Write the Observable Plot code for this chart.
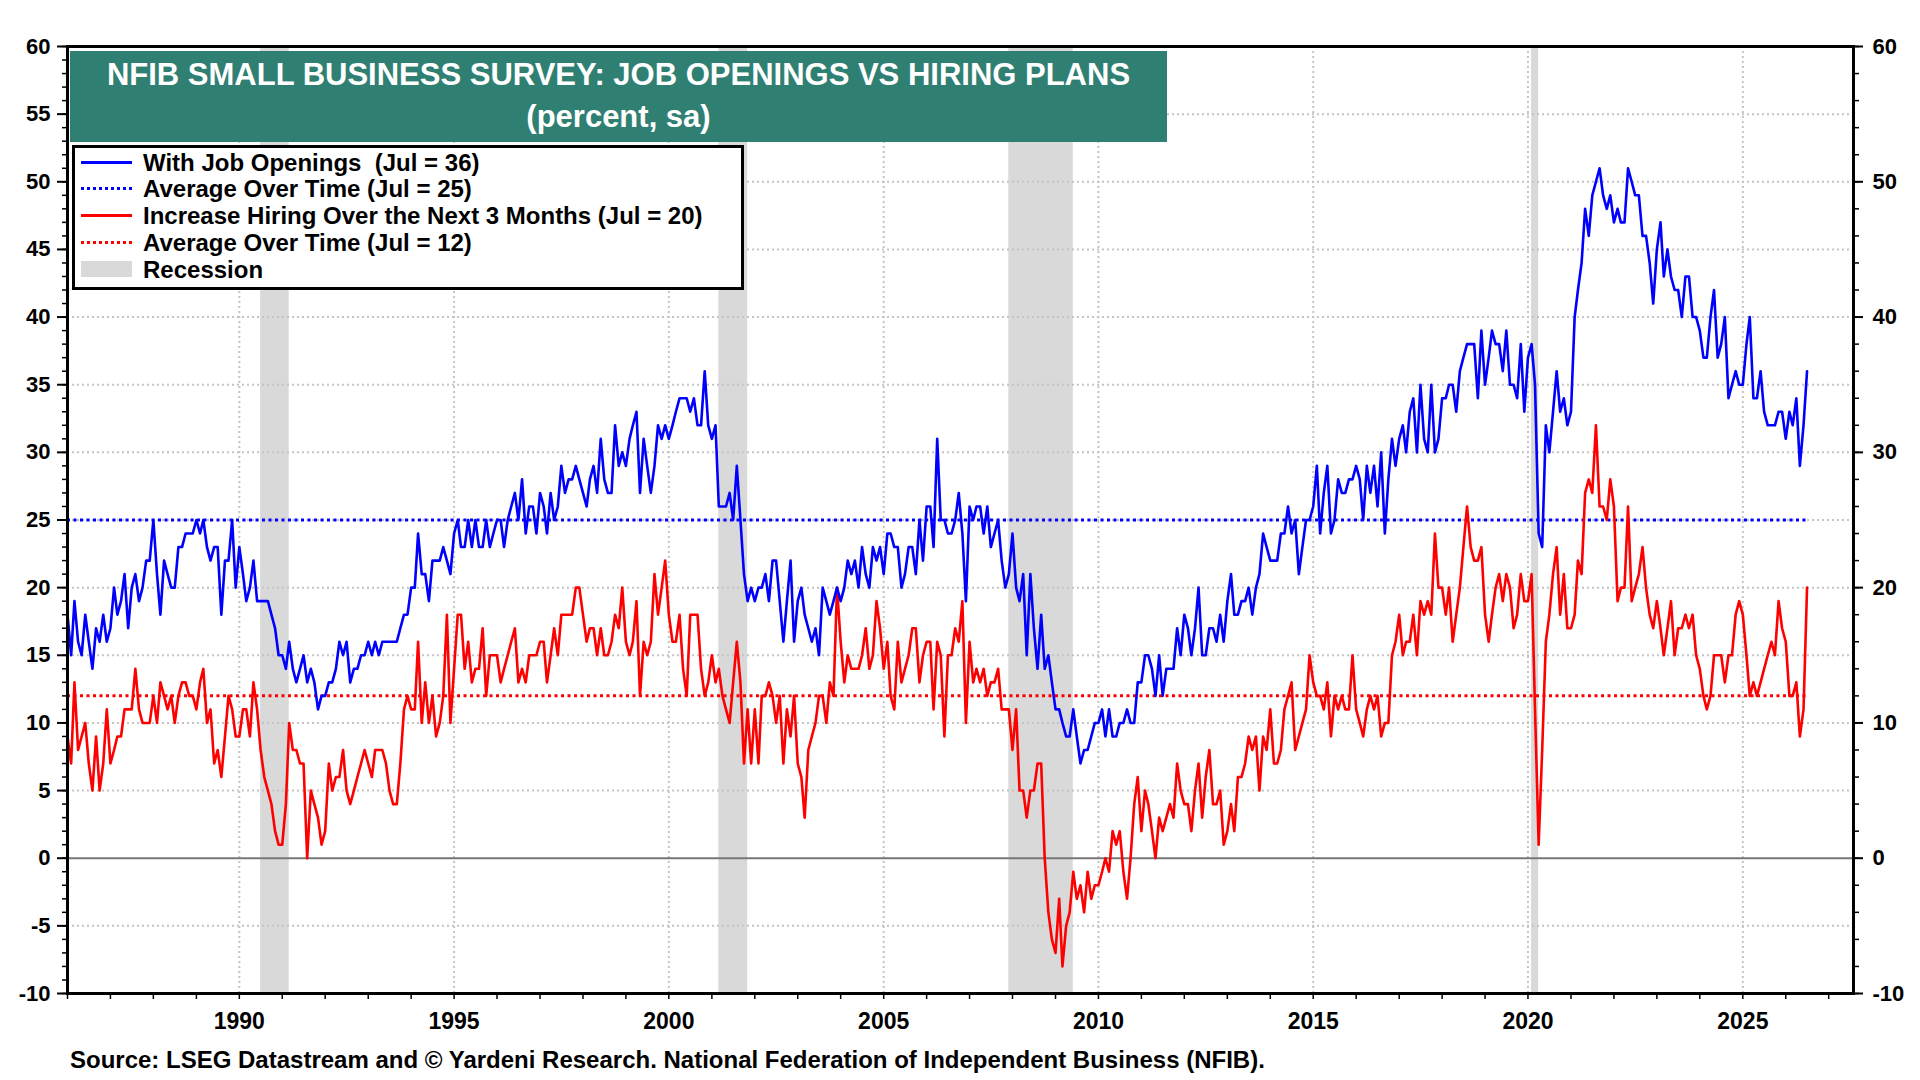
<!DOCTYPE html>
<html>
<head>
<meta charset="utf-8">
<script src="https://cdn.jsdelivr.net/npm/d3@7"></script>
<script src="https://cdn.jsdelivr.net/npm/@observablehq/plot@0.6"></script>
<style>
  html, body { margin: 0; padding: 0; background: #fff; }
  #wrap { position: relative; width: 1920px; height: 1080px; font-family: "Liberation Sans", Arial, sans-serif; font-weight: bold; color: #000; }
  #chart { position: absolute; left: 0; top: 0; }
  #title { position: absolute; left: 70px; top: 51px; width: 1097px; height: 91px; background: #2F7F73; color: #fff; font-size: 31px; text-align: center; }
  #title div { position: absolute; left: 0; width: 100%; line-height: 36px; white-space: pre; }
  #legend { position: absolute; left: 72px; top: 145px; width: 666px; height: 139px; border: 3px solid #000; background: #fff; font-size: 24px; }
  .row { position: absolute; left: 0; height: 27px; width: 100%; }
  .sw { position: absolute; left: 6px; width: 51px; }
  .lt { position: absolute; left: 68px; top: 0; line-height: 27px; white-space: pre; }
  #source { position: absolute; left: 70px; top: 1046px; font-size: 24px; line-height: 28px; white-space: pre; }
</style>
</head>
<body>
<div id="wrap">
  <div id="chart"></div>
  <div id="title"></div>
  <div id="legend"></div>
  <div id="source"></div>
</div>
<script>
// ---- data (monthly, starting January 1986) ----
const startYear = 1986;
const startMonth = 0;

const jobOpenings = [
  18,15,19,16,15,18,16,14,17,16,
  18,16,17,20,18,19,21,17,20,21,
  19,20,22,22,25,21,18,22,21,20,
  20,23,23,24,24,24,25,24,25,23,
  22,23,23,18,22,22,25,20,23,21,
  19,20,22,19,19,19,19,18,17,15,
  15,14,16,14,13,14,15,13,14,13,
  11,12,12,13,13,14,16,15,16,13,
  14,14,15,15,16,15,16,15,16,16,
  16,16,16,17,18,18,20,20,24,21,
  21,19,22,22,22,23,22,21,24,25,
  23,23,25,23,25,23,23,25,23,24,
  25,25,23,25,26,27,25,28,24,26,
  26,24,27,26,24,27,25,26,29,27,
  28,28,29,28,27,26,28,29,27,31,
  28,27,27,32,29,30,29,31,32,33,
  27,31,29,27,29,32,31,32,31,32,
  33,34,34,34,33,34,32,32,36,32,
  31,32,26,26,26,27,25,29,25,21,
  19,20,19,20,20,21,19,22,22,19,
  16,19,22,16,19,20,18,17,16,17,
  15,20,19,18,19,20,19,20,22,21,
  22,20,23,21,20,23,22,23,21,24,
  24,23,23,20,21,23,23,21,25,22,
  26,26,23,31,25,25,24,24,25,27,
  24,19,26,25,26,26,24,26,23,24,
  25,22,20,21,24,20,19,21,15,21,
  17,14,18,14,15,13,11,11,10,9,
  9,11,9,7,8,8,9,10,10,11,
  9,11,9,9,10,10,11,10,10,13,
  13,15,15,14,12,15,12,14,14,14,
  17,15,18,17,15,17,20,15,15,17,
  17,16,18,16,19,21,18,18,19,19,
  20,18,20,21,24,23,22,22,22,24,
  24,26,24,25,21,23,25,25,26,29,
  24,27,29,24,25,28,27,27,28,28,
  29,28,25,29,27,29,26,30,24,28,
  31,29,31,32,30,33,34,30,35,31,
  30,35,30,31,34,34,35,35,33,36,
  37,38,38,38,34,39,35,37,39,38,
  38,36,39,35,35,34,38,33,37,38,
  35,24,23,32,30,33,36,33,34,32,
  33,40,42,44,48,46,49,50,51,49,
  48,49,47,48,47,47,51,50,49,49,
  46,46,44,41,45,47,43,45,43,42,
  42,40,43,43,40,40,39,37,37,40,
  42,37,38,40,34,35,36,35,35,38,
  40,34,34,36,33,32,32,32,33,33,
  31,33,32,34,29,32,36
];

const hiringPlans = [
  9,7,13,8,9,10,7,5,9,5,
  7,11,7,8,9,9,11,11,11,14,
  11,10,10,10,12,10,13,12,11,12,
  10,12,13,13,12,12,11,13,14,10,
  11,7,8,6,9,12,11,9,9,11,
  11,9,13,11,8,6,5,4,2,1,
  1,4,10,8,8,7,7,0,5,4,
  3,1,2,7,5,6,6,8,5,4,
  5,6,7,8,7,6,8,8,8,7,
  5,4,4,7,11,12,11,11,16,10,
  13,10,12,9,10,12,18,10,14,18,
  18,14,16,13,14,14,17,12,15,15,
  15,13,14,15,16,17,13,14,13,15,
  15,15,16,16,13,15,17,15,18,18,
  18,18,20,20,18,16,17,17,15,17,
  15,15,16,18,17,20,16,15,16,19,
  12,16,15,16,21,18,20,22,18,16,
  16,18,14,12,18,18,18,14,12,13,
  15,13,14,12,11,10,13,16,13,7,
  11,7,11,7,12,12,13,12,10,12,
  7,11,9,12,7,6,3,8,9,10,
  12,12,10,13,12,20,16,13,15,14,
  14,14,15,17,14,15,19,17,14,16,
  12,11,16,13,14,15,17,17,13,15,
  16,16,11,16,15,9,15,15,17,16,
  19,10,16,13,14,13,14,12,13,13,
  14,11,11,11,8,11,5,5,3,5,
  5,7,7,0,-4,-6,-7,-3,-8,-5,
  -4,-1,-3,-2,-4,-1,-3,-2,-2,-1,
  0,-1,2,1,2,-1,-3,0,4,6,
  2,5,4,2,0,3,2,3,4,3,
  7,5,4,4,2,5,7,3,6,8,
  4,4,5,1,2,4,2,6,6,7,
  9,8,9,5,9,8,11,7,7,8,
  11,12,13,8,9,10,11,15,13,12,
  12,11,13,9,12,11,12,11,11,15,
  11,10,9,11,12,11,12,9,10,10,
  15,16,18,15,16,16,18,15,19,18,
  19,18,24,20,20,18,20,16,18,20,
  23,26,23,22,22,23,18,16,18,20,
  21,19,21,20,17,18,21,19,19,21,
  11,1,8,16,18,21,23,18,21,17,
  17,18,22,21,27,28,27,32,26,26,
  25,28,26,19,20,20,26,19,20,21,
  23,20,18,17,19,17,15,17,19,15,
  17,17,18,17,18,15,14,12,11,12,
  15,15,15,13,15,15,18,19,18,15,
  12,13,12,13,14,15,16,15,19,17,
  16,12,12,13,9,11,20
];

const jobOpeningsAverage = [25];
const hiringPlansAverage = [12];

const recessionStarts = ["1990-07-01", "2001-03-01", "2007-12-01", "2020-02-01"];
const recessionEnds   = ["1991-03-01", "2001-11-01", "2009-06-01", "2020-04-01"];

const yTicksLeft = [-10, -5, 0, 5, 10, 15, 20, 25, 30, 35, 40, 45, 50, 55, 60];
const yTicksRight = [-10, 0, 10, 20, 30, 40, 50, 60];
const yGrid = [-5, 5, 10, 15, 20, 25, 30, 35, 40, 45, 50, 55];
const xLabelYears = [1990, 1995, 2000, 2005, 2010, 2015, 2020, 2025];

const titleLines = ["NFIB SMALL BUSINESS SURVEY: JOB OPENINGS VS HIRING PLANS", "(percent, sa)"];
const legendLabels = [
  "With Job Openings  (Jul = 36)",
  "Average Over Time (Jul = 25)",
  "Increase Hiring Over the Next 3 Months (Jul = 20)",
  "Average Over Time (Jul = 12)",
  "Recession"
];
const legendColors = ["#0000ff", "#0000ff", "#ff0000", "#ff0000", "#d9d9d9"];
const legendKinds = ["solid", "dotted", "solid", "dotted", "box"];
const sourceText = "Source: LSEG Datastream and \u00A9 Yardeni Research. National Federation of Independent Business (NFIB).";

// ---- build tables ----
const dateAt = i => new Date(Date.UTC(startYear, startMonth + i, 1));
const jobs = jobOpenings.map((v, i) => ({date: dateAt(i), value: v}));
const hires = hiringPlans.map((v, i) => ({date: dateAt(i), value: v}));
const firstDate = jobs[0].date;
const lastDate = jobs[jobs.length - 1].date;
const avgJobs = jobOpeningsAverage.map(v => ({y: v, x1: firstDate, x2: lastDate}));
const avgHires = hiringPlansAverage.map(v => ({y: v, x1: firstDate, x2: lastDate}));
const recessions = recessionStarts.map((s, i) => ({start: new Date(s + "T00:00:00Z"), end: new Date(recessionEnds[i] + "T00:00:00Z")}));
const yearTicks = d3.range(1986, 2028).map(y => new Date(Date.UTC(y, 0, 1)));
const gridYears = xLabelYears.map(y => new Date(Date.UTC(y, 0, 1)));
const fmtYear = d => (xLabelYears.includes(d.getUTCFullYear()) ? String(d.getUTCFullYear()) : "");

const font = '"Liberation Sans", Arial, sans-serif';

const chart = Plot.plot({
  width: 1920,
  height: 1040,
  marginTop: 46,
  marginBottom: 47,
  marginLeft: 67,
  marginRight: 67,
  x: {type: "utc", domain: [new Date(Date.UTC(1986, 0, 1)), new Date(Date.UTC(2027, 6, 31))], label: null},
  y: {domain: [-10, 60], label: null},
  style: {fontFamily: font, fontWeight: "bold", fontSize: "22px", color: "#000", background: "transparent", overflow: "visible"},
  marks: [
    Plot.rect(recessions, {x1: "start", x2: "end", fill: "#d9d9d9"}),
    Plot.gridY({ticks: yGrid, stroke: "#c4c4c4", strokeOpacity: 1, strokeWidth: 2, strokeDasharray: "2,3"}),
    Plot.gridX({ticks: gridYears, stroke: "#c4c4c4", strokeOpacity: 1, strokeWidth: 2, strokeDasharray: "2,3"}),
    Plot.ruleY([0], {stroke: "#777", strokeWidth: 2}),
    Plot.ruleY(avgJobs, {y: "y", x1: "x1", x2: "x2", stroke: "#0000ff", strokeWidth: 3, strokeDasharray: "3,3.5"}),
    Plot.ruleY(avgHires, {y: "y", x1: "x1", x2: "x2", stroke: "#ff0000", strokeWidth: 3, strokeDasharray: "3,3.5"}),
    Plot.line(hires, {x: "date", y: "value", stroke: "#ff0000", strokeWidth: 2.6}),
    Plot.line(jobs, {x: "date", y: "value", stroke: "#0000ff", strokeWidth: 2.6}),
    Plot.frame({stroke: "#000", strokeWidth: 3}),
    Plot.axisY({anchor: "left", ticks: yTicksLeft, tickSize: 10, tickPadding: 7, tickFormat: d => String(d), strokeWidth: 2, fontSize: 22, label: null}),
    Plot.axisY({anchor: "left", ticks: d3.range(-10, 61, 1), tickSize: 5, tickFormat: () => "", strokeWidth: 1.5, label: null}),
    Plot.axisY({anchor: "right", ticks: yTicksRight, tickSize: 9, tickPadding: 10, tickFormat: d => String(d), strokeWidth: 2, fontSize: 22, label: null}),
    Plot.axisY({anchor: "right", ticks: d3.range(-10, 61, 2), tickSize: 5, tickFormat: () => "", strokeWidth: 1.5, label: null}),
    Plot.axisX({anchor: "bottom", ticks: yearTicks, tickSize: 6, tickPadding: 13, tickFormat: fmtYear, strokeWidth: 1.5, fontSize: 23, label: null})
  ]
});
document.getElementById("chart").appendChild(chart);

// ---- title ----
const title = document.getElementById("title");
titleLines.forEach((t, i) => {
  const d = document.createElement("div");
  d.textContent = t;
  d.style.top = (i === 0 ? 6 : 48) + "px";
  title.appendChild(d);
});

// ---- legend ----
const legend = document.getElementById("legend");
legendLabels.forEach((lab, i) => {
  const row = document.createElement("div");
  row.className = "row";
  row.style.top = (0.5 + i * 26.75) + "px";
  const sw = document.createElement("div");
  sw.className = "sw";
  if (legendKinds[i] === "solid") {
    sw.style.top = "12px"; sw.style.height = "3px"; sw.style.background = legendColors[i];
  } else if (legendKinds[i] === "dotted") {
    sw.style.top = "12px"; sw.style.height = "3px";
    sw.style.background = `repeating-linear-gradient(to right, ${legendColors[i]} 0 3px, transparent 3px 6px)`;
  } else {
    sw.style.top = "5px"; sw.style.height = "16px"; sw.style.background = legendColors[i];
  }
  const tx = document.createElement("div");
  tx.className = "lt";
  tx.textContent = lab;
  row.appendChild(sw);
  row.appendChild(tx);
  legend.appendChild(row);
});

document.getElementById("source").textContent = sourceText;
</script>
</body>
</html>
